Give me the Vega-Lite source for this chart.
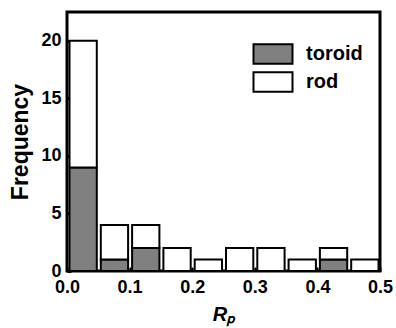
{
  "$schema": "https://vega.github.io/schema/vega-lite/v6.json",
  "width": 313,
  "height": 259,
  "autosize": "none",
  "padding": {"left": 67, "top": 12, "right": 16, "bottom": 57},
  "background": "white",
  "config": {
    "view": {"stroke": "black", "strokeWidth": 3},
    "font": "Liberation Sans"
  },
  "data": {
    "values": [
      {"start": 0.0, "end": 0.05, "type": "toroid", "count": 9},
      {"start": 0.0, "end": 0.05, "type": "rod", "count": 11},
      {"start": 0.05, "end": 0.1, "type": "toroid", "count": 1},
      {"start": 0.05, "end": 0.1, "type": "rod", "count": 3},
      {"start": 0.1, "end": 0.15, "type": "toroid", "count": 2},
      {"start": 0.1, "end": 0.15, "type": "rod", "count": 2},
      {"start": 0.15, "end": 0.2, "type": "rod", "count": 2},
      {"start": 0.2, "end": 0.25, "type": "rod", "count": 1},
      {"start": 0.25, "end": 0.3, "type": "rod", "count": 2},
      {"start": 0.3, "end": 0.35, "type": "rod", "count": 2},
      {"start": 0.35, "end": 0.4, "type": "rod", "count": 1},
      {"start": 0.4, "end": 0.45, "type": "toroid", "count": 1},
      {"start": 0.4, "end": 0.45, "type": "rod", "count": 1},
      {"start": 0.45, "end": 0.5, "type": "rod", "count": 1}
    ]
  },
  "mark": {"type": "bar", "stroke": "black", "strokeWidth": 2, "binSpacing": 4},
  "encoding": {
    "x": {
      "field": "start", "type": "quantitative", "bin": "binned",
      "scale": {"domain": [0, 0.5], "nice": false},
      "axis": {
        "values": [0, 0.1, 0.2, 0.3, 0.4, 0.5], "format": ".1f",
        "title": "Rₚ", "titleFontStyle": "italic", "titleFontWeight": "bold", "titleFontSize": 20,
        "titlePadding": 8,
        "labelFontSize": 18, "labelFontWeight": "bold", "labelColor": "black",
        "domain": false, "grid": false, "ticks": true, "tickSize": -4, "tickWidth": 2, "tickColor": "black",
        "labelPadding": 11, "labelFlush": false
      }
    },
    "x2": {"field": "end"},
    "y": {
      "field": "count", "type": "quantitative", "stack": "zero",
      "scale": {"domain": [0, 22.5], "nice": false},
      "axis": {
        "values": [0, 5, 10, 15, 20],
        "title": "Frequency", "titleFontWeight": "bold", "titleFontSize": 23, "titlePadding": 8,
        "labelFontSize": 18, "labelFontWeight": "bold", "labelColor": "black",
        "domain": false, "grid": false, "ticks": true, "tickSize": -4, "tickWidth": 3, "tickColor": "black",
        "labelPadding": 10
      }
    },
    "color": {
      "field": "type", "type": "nominal",
      "scale": {"domain": ["toroid", "rod"], "range": ["#808080", "#ffffff"]},
      "legend": {
        "orient": "none", "legendX": 195, "legendY": 31, "title": null,
        "symbolType": "M-2,-1H2V1H-2Z", "symbolSize": 380,
        "symbolStrokeColor": "black", "symbolStrokeWidth": 2, "symbolOpacity": 1,
        "labelFontSize": 20, "labelFontWeight": "bold", "labelColor": "black",
        "labelOffset": 22, "rowPadding": 0
      }
    },
    "order": {"field": "type", "sort": "descending"}
  }
}
